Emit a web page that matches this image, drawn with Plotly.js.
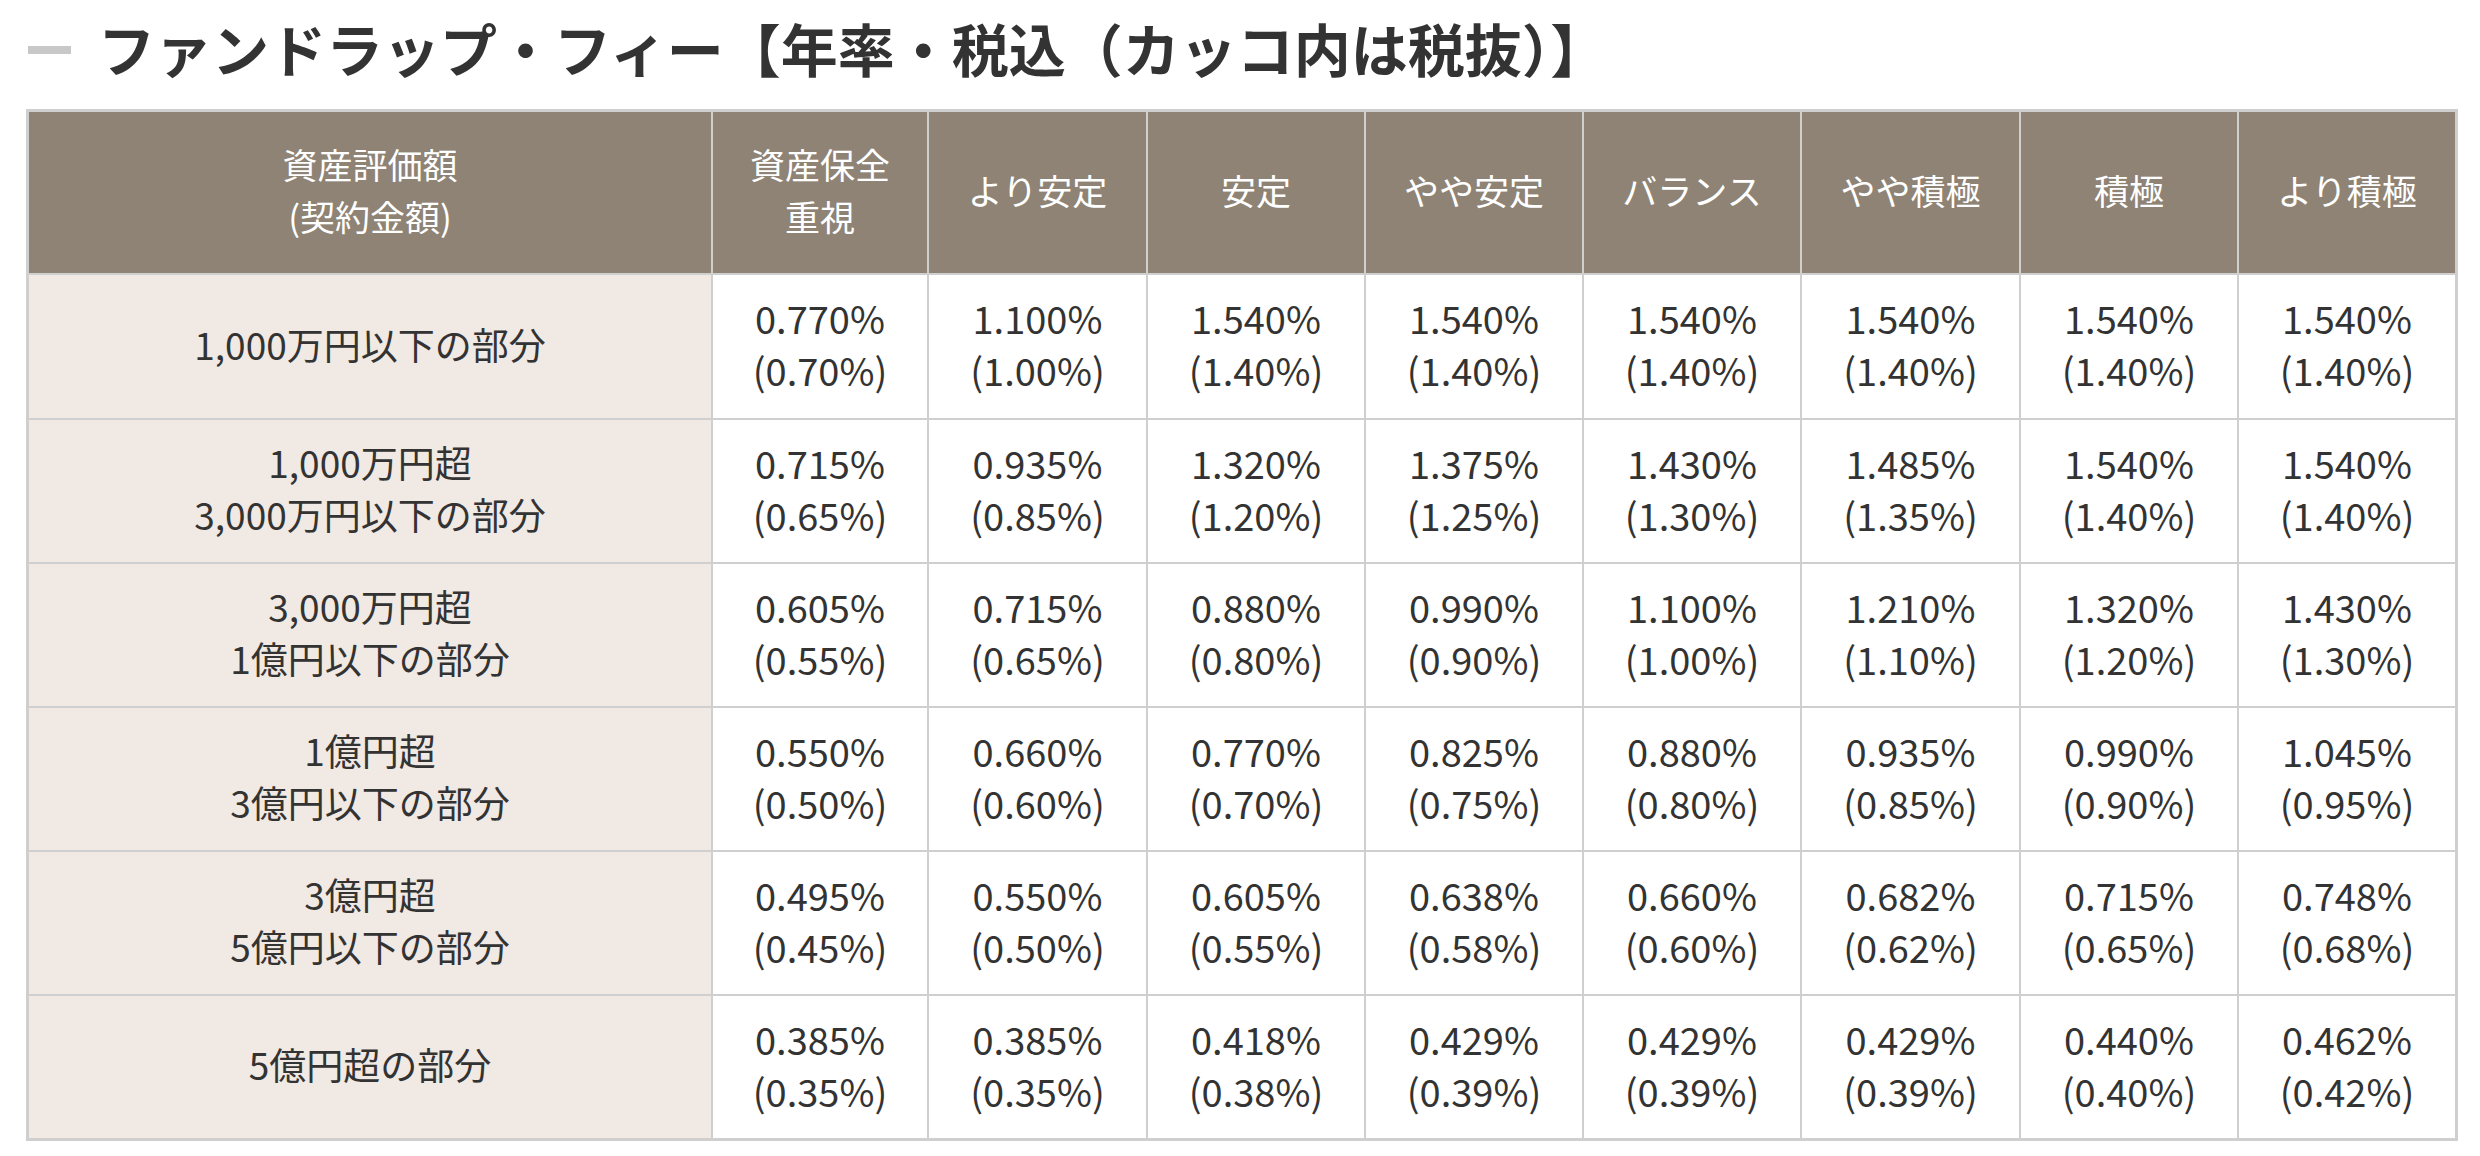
<!DOCTYPE html>
<html>
<head>
<meta charset="utf-8">
<script src="https://cdn.plot.ly/plotly-3.0.1.min.js"></script>
<style>html,body{margin:0;padding:0;background:#fff;}#chart{width:2480px;height:1156px;}</style>
</head>
<body>
<div id="chart"></div>
<script>
// ---------- data ----------
const chartTitle = "ファンドラップ・フィー【年率・税込（カッコ内は税抜）】";
const headerLabels = ["資産評価額<br>(契約金額)", "資産保全<br>重視", "より安定", "安定", "やや安定", "バランス", "やや積極", "積極", "より積極"];
const tiers = [
  "1,000万円以下の部分",
  "1,000万円超<br>3,000万円以下の部分",
  "3,000万円超<br>1億円以下の部分",
  "1億円超<br>3億円以下の部分",
  "3億円超<br>5億円以下の部分",
  "5億円超の部分"
];
const courses = ["資産保全重視", "より安定", "安定", "やや安定", "バランス", "やや積極", "積極", "より積極"];
// tax-included annual fee (%) per tier, one array per course
const inclHozen   = [0.770, 0.715, 0.605, 0.550, 0.495, 0.385];
const inclYoriAn  = [1.100, 0.935, 0.715, 0.660, 0.550, 0.385];
const inclAntei   = [1.540, 1.320, 0.880, 0.770, 0.605, 0.418];
const inclYayaAn  = [1.540, 1.375, 0.990, 0.825, 0.638, 0.429];
const inclBalance = [1.540, 1.430, 1.100, 0.880, 0.660, 0.429];
const inclYayaSek = [1.540, 1.485, 1.210, 0.935, 0.682, 0.429];
const inclSekkyoku= [1.540, 1.540, 1.320, 0.990, 0.715, 0.440];
const inclYoriSek = [1.540, 1.540, 1.430, 1.045, 0.748, 0.462];
// tax-excluded annual fee (%)
const exclHozen   = [0.70, 0.65, 0.55, 0.50, 0.45, 0.35];
const exclYoriAn  = [1.00, 0.85, 0.65, 0.60, 0.50, 0.35];
const exclAntei   = [1.40, 1.20, 0.80, 0.70, 0.55, 0.38];
const exclYayaAn  = [1.40, 1.25, 0.90, 0.75, 0.58, 0.39];
const exclBalance = [1.40, 1.30, 1.00, 0.80, 0.60, 0.39];
const exclYayaSek = [1.40, 1.35, 1.10, 0.85, 0.62, 0.39];
const exclSekkyoku= [1.40, 1.40, 1.20, 0.90, 0.65, 0.40];
const exclYoriSek = [1.40, 1.40, 1.30, 0.95, 0.68, 0.42];

const inclByCourse = [inclHozen, inclYoriAn, inclAntei, inclYayaAn, inclBalance, inclYayaSek, inclSekkyoku, inclYoriSek];
const exclByCourse = [exclHozen, exclYoriAn, exclAntei, exclYayaAn, exclBalance, exclYayaSek, exclSekkyoku, exclYoriSek];

// ---------- layout constants (style, not data) ----------
const W = 2480, H = 1156;
const tableLeft = 28, tableTop = 111;
const colWidths = [684, 216, 219, 218, 218, 218, 219, 218, 218];
const rowHeights = [163, 145, 144, 144, 144, 144, 144];
const lineGap = 52;
const textNudge = 4;
const totalW = colWidths.reduce((a, b) => a + b, 0);
const totalH = rowHeights.reduce((a, b) => a + b, 0);

const colEdges = [0];
colWidths.forEach(w => colEdges.push(colEdges[colEdges.length - 1] + w));
const rowEdges = [0];
rowHeights.forEach(h => rowEdges.push(rowEdges[rowEdges.length - 1] + h));
const colCenters = colWidths.map((w, i) => colEdges[i] + w / 2);
const rowCenters = rowHeights.map((h, i) => rowEdges[i] + h / 2);

// cell fill codes: 0 header, 1 label column, 2 value cells
const zCodes = rowHeights.map((h, r) => colWidths.map((w, c) => r === 0 ? 0 : (c === 0 ? 1 : 2)));

const fontFam = '"Noto Sans CJK JP", "Noto Sans", sans-serif';

// Build text points: each line of a cell is its own text point, lines centred in the cell
function textPoints(cells) { // cells: [{x, y, s}]
  const xs = [], ys = [], ts = [];
  cells.forEach(c => {
    const lines = c.s.split("<br>");
    const n = lines.length;
    lines.forEach((ln, k) => {
      xs.push(c.x);
      ys.push(c.y + textNudge + (k - (n - 1) / 2) * lineGap);
      ts.push(ln);
    });
  });
  return {x: xs, y: ys, text: ts};
}

const headerPts = textPoints(headerLabels.map((s, i) => ({x: colCenters[i], y: rowCenters[0], s})));
const tierPts = textPoints(tiers.map((s, i) => ({x: colCenters[0], y: rowCenters[i + 1], s})));
const valueCells = [];
courses.forEach((c, ci) => {
  tiers.forEach((t, ti) => {
    valueCells.push({
      x: colCenters[ci + 1], y: rowCenters[ti + 1],
      s: inclByCourse[ci][ti].toFixed(3) + "%<br>(" + exclByCourse[ci][ti].toFixed(2) + "%)"
    });
  });
});
const valuePts = textPoints(valueCells);

function textTrace(pts, size, color) {
  return {
    type: "scatter", mode: "text", x: pts.x, y: pts.y, text: pts.text,
    textposition: "middle center",
    textfont: {family: fontFam, size: size, color: color},
    cliponaxis: false, hoverinfo: "skip"
  };
}

const data = [
  {
    type: "heatmap",
    x: colEdges, y: rowEdges, z: zCodes,
    zmin: 0, zmax: 2,
    colorscale: [[0, "#8e8375"], [0.25, "#8e8375"], [0.25, "#f1e9e3"], [0.75, "#f1e9e3"], [0.75, "#ffffff"], [1, "#ffffff"]],
    showscale: false, xgap: 2, ygap: 2, hoverinfo: "skip"
  },
  textTrace(headerPts, 35, "#ffffff"),
  textTrace(tierPts, 37, "#333333"),
  textTrace(valuePts, 38, "#333333")
];

const layout = {
  width: W, height: H,
  margin: {l: 0, r: 0, t: 0, b: 0},
  paper_bgcolor: "#ffffff",
  plot_bgcolor: "#cfcfcf",
  showlegend: false,
  xaxis: {
    domain: [tableLeft / W, (tableLeft + totalW) / W],
    range: [0, totalW], showgrid: false, zeroline: false, showticklabels: false, ticks: "",
    showline: true, mirror: true, linecolor: "#cfcfcf", linewidth: 2, fixedrange: true
  },
  yaxis: {
    domain: [1 - (tableTop + totalH) / H, 1 - tableTop / H],
    range: [totalH, 0], showgrid: false, zeroline: false, showticklabels: false, ticks: "",
    showline: true, mirror: true, linecolor: "#cfcfcf", linewidth: 2, fixedrange: true
  },
  title: {
    text: "<b>" + chartTitle + "</b>",
    x: 98 / W, xref: "container", xanchor: "left",
    y: 1 - 52 / H, yref: "container", yanchor: "middle",
    font: {family: fontFam, size: 57, color: "#333333"}
  },
  shapes: [{
    type: "line", xref: "paper", yref: "paper",
    x0: 28 / W, x1: 71 / W, y0: 1 - 50 / H, y1: 1 - 50 / H,
    line: {color: "#c8c8c8", width: 8}
  }]
};

Plotly.newPlot("chart", data, layout, {displayModeBar: false, staticPlot: true});
</script>
</body>
</html>
